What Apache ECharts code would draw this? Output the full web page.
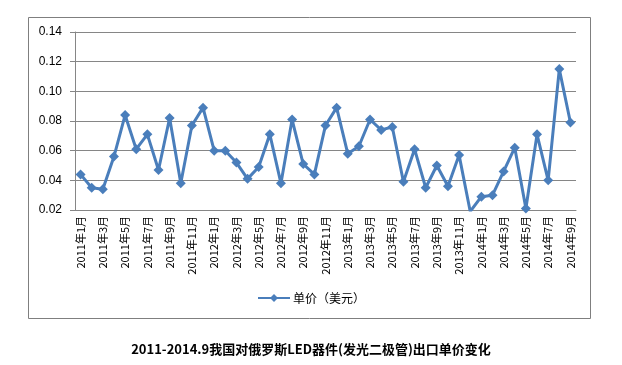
<!DOCTYPE html>
<html><head><meta charset="utf-8">
<script src="https://cdn.jsdelivr.net/npm/echarts@6/dist/echarts.min.js"></script>
<style>html,body{margin:0;padding:0;background:#fff}#c{width:622px;height:365px}</style>
</head><body><div id="c"></div>
<script>
const categories = [];
const years = [2011, 2012, 2013, 2014];
years.forEach(y => { for (let m = 1; m <= 12; m++) { if (y === 2014 && m > 9) break; categories.push(y + '年' + m + '月'); } });
const seriesName = '单价（美元）';
const prices = [0.044,0.035,0.034,0.056,0.084,0.061,0.071,0.047,0.082,0.038,0.077,0.089,
  0.060,0.060,0.052,0.041,0.049,0.071,0.038,0.081,0.051,0.044,0.077,0.089,
  0.058,0.063,0.081,0.074,0.076,0.039,0.061,0.035,0.050,0.036,0.057,0.019,
  0.029,0.030,0.046,0.062,0.021,0.071,0.040,0.115,0.079];
const titleText = '2011-2014.9我国对俄罗斯LED器件(发光二极管)出口单价变化';

const chart = echarts.init(document.getElementById('c'));
chart.setOption({
  animation: false,
  graphic: [{type:'rect', shape:{x:28.5,y:17.5,width:562,height:301}, style:{fill:'none', stroke:'#7f7f7f', lineWidth:1}}],
  title: {text: titleText, left: 'center', top: 338, textStyle:{fontFamily:'Noto Sans CJK SC', fontSize:13, fontWeight:'bold', color:'#000'}},
  legend: {data:[seriesName], left: 252, top: 287, itemWidth: 32, itemHeight: 10, itemGap: 4,
    textStyle:{fontFamily:'Noto Sans CJK SC', fontSize:12, color:'#000', padding:[0,0,0,-2]}},
  grid: {left: 75, right: 46, top: 32, bottom: 155},
  xAxis: {type:'category', data: categories, boundaryGap: true,
    axisLine:{lineStyle:{color:'#868686'}},
    axisTick:{interval:1, length:5, lineStyle:{color:'#868686'}},
    axisLabel:{interval:1, rotate:90, fontFamily:'Noto Sans CJK SC', fontSize:11, color:'#000', margin:6}},
  yAxis: {type:'value', min:0.02, max:0.14, interval:0.02,
    axisLine:{show:true, lineStyle:{color:'#868686'}},
    axisTick:{show:true, length:5, lineStyle:{color:'#868686'}},
    axisLabel:{formatter: v => v.toFixed(2), fontFamily:'Liberation Sans', fontSize:12, color:'#000', margin:13},
    splitLine:{lineStyle:{color:'#868686'}}},
  series: [{name: seriesName, type:'line', data: prices, symbol:'diamond', symbolSize:10,
    showSymbol: true, showAllSymbol: true, clip: true,
    lineStyle:{color:'#4a7ebb', width:3}, itemStyle:{color:'#4a7ebb'}}]
});
</script></body></html>
